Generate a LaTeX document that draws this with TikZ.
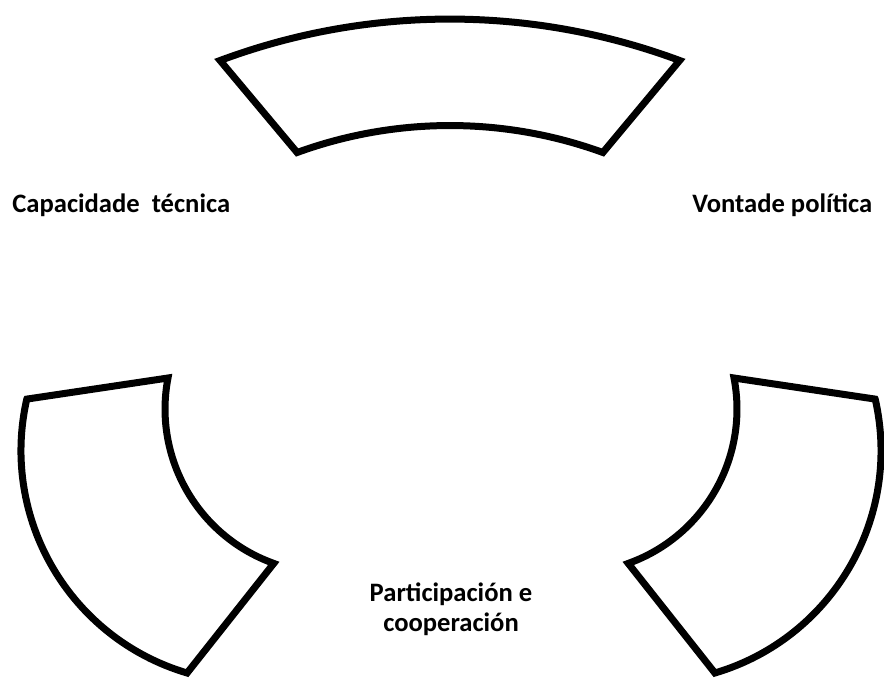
\documentclass[tikz,border=0pt]{standalone}
\usepackage{fontspec}
\setmainfont{Carlito}
\begin{document}
\begin{tikzpicture}[x=1pt,y=-1pt,
  blockarc/.style={draw=black,fill=white,line width=7pt,line join=miter},
  lbl/.style={inner sep=0pt,font=\fontsize{26.6}{30}\selectfont\bfseries}]
\useasboundingbox (0,0) rectangle (884,679);
% top block arc
\draw[blockarc] (220.1,60.5) coordinate (topA)
  arc[start angle=249.56, end angle=290.44, radius=658]
  -- (602.9,152.5) coordinate (topC)
  arc[start angle=290, end angle=250, radius=447] -- cycle;
% left block arc
\draw[blockarc] (26.8,399.1) coordinate (leftE) -- (168,378) coordinate (leftF)
  arc[start angle=190.9, end angle=109.7, radius=164]
  -- (187.1,673) coordinate (leftH)
  arc[start angle=106.5, end angle=192.8, radius=232] -- cycle;
% right block arc
\draw[blockarc] (875.2,399.1) coordinate (rightE) -- (734,378) coordinate (rightF)
  arc[start angle=-10.9, end angle=70.3, radius=164]
  -- (714.9,673) coordinate (rightH)
  arc[start angle=73.5, end angle=-12.8, radius=232] -- cycle;
% labels
\node[lbl,anchor=base west] (tec) at (12.2,213) {Capacidade~~técnica};
\node[lbl,anchor=base east] (pol) at (872.5,213) {Vontade política};
\node[lbl,align=center,anchor=center] (par) at (451,609) {Participación e\\cooperación};
\end{tikzpicture}
\end{document}
